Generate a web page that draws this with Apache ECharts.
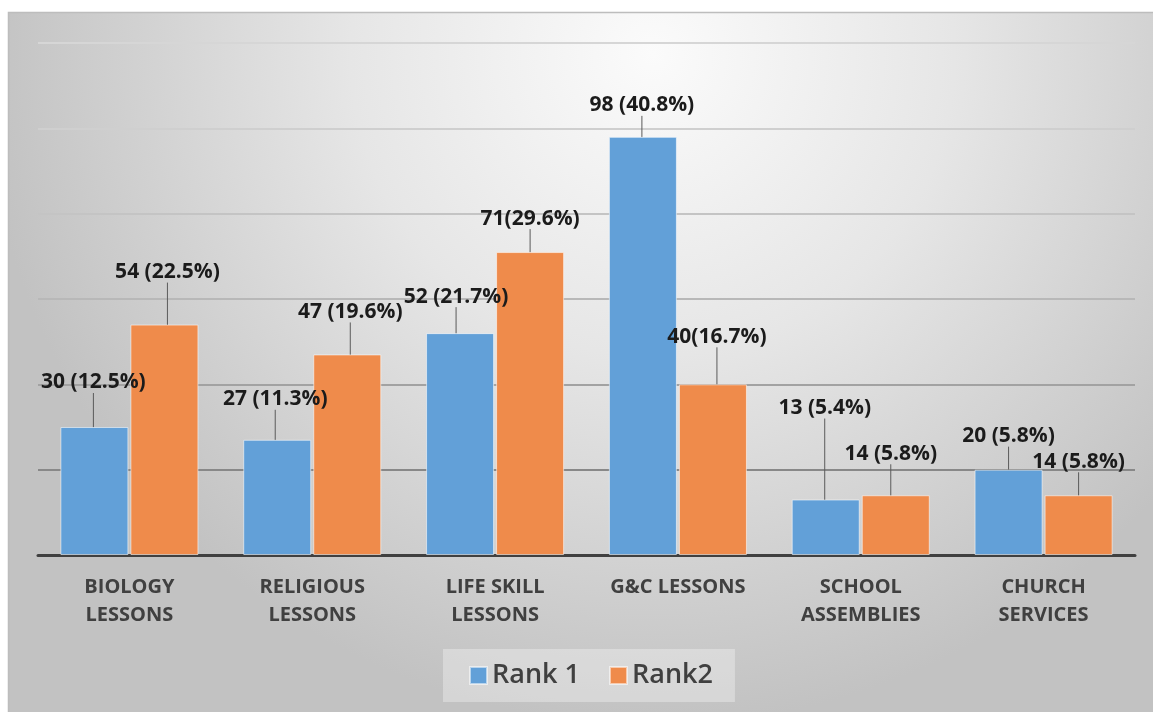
<!DOCTYPE html>
<html>
<head>
<meta charset="utf-8">
<script src="https://cdn.jsdelivr.net/npm/echarts@6/dist/echarts.min.js"></script>
<style>
  html, body { margin: 0; padding: 0; background: #ffffff; }
  #chart { width: 1153px; height: 712px; }
</style>
</head>
<body>
<div id="chart"></div>
<script>
// Lessons / activities ranked first and second
const categories = ['BIOLOGY\nLESSONS', 'RELIGIOUS\nLESSONS', 'LIFE SKILL\nLESSONS', 'G&C LESSONS', 'SCHOOL\nASSEMBLIES', 'CHURCH\nSERVICES'];
const rank1 = [30, 27, 52, 98, 13, 20];
const rank2 = [54, 47, 71, 40, 14, 14];
const pct1 = ['12.5', '11.3', '21.7', '40.8', '5.4', '5.8'];
const pct2 = ['22.5', '19.6', '29.6', '16.7', '5.8', '5.8'];
// text between the count and the bracketed share
const gap1 = [' ', ' ', ' ', ' ', ' ', ' '];
const gap2 = [' ', ' ', '', '', ' ', ' '];
const seriesNames = ['Rank 1', 'Rank2'];
const yTicks = { min: 0, max: 120, interval: 20 };

// callout offsets for the value labels (dx, dy in px from the default top position)
const shift1 = [[-1, -29], [-2, -25], [-4, -21], [-1, -16], [-1, -76], [0, -18]];
const shift2 = [[3, -37], [3, -27], [0, -18], [4, -32], [-5, -26], [0, -18]];

const chart = echarts.init(document.getElementById('chart'), null, { renderer: 'canvas' });

const labelFont = { fontFamily: 'Open Sans', fontWeight: 'bold', fontSize: 21, color: '#1b1b1b' };

function makeSeries(name, values, pcts, gaps, color, shifts) {
  return {
    name: name,
    type: 'bar',
    data: values,
    barWidth: 68,
    barGap: '3%',
    itemStyle: { color: color, borderColor: 'rgba(255,255,255,0.55)', borderWidth: 1 },
    label: Object.assign({
      show: true,
      position: 'top',
      distance: 5,
      formatter: p => values[p.dataIndex] + gaps[p.dataIndex] + '(' + pcts[p.dataIndex] + '%)'
    }, labelFont),
    labelLine: { show: true, lineStyle: { color: '#5a5a5a', width: 1 } },
    labelLayout: p => ({ dx: shifts[p.dataIndex][0], dy: shifts[p.dataIndex][1] })
  };
}

chart.setOption({
  animation: false,
  backgroundColor: '#ffffff',
  graphic: [{
    type: 'rect',
    z: -10,
    shape: { x: 8.5, y: 12.5, width: 1150, height: 705 },
    style: {
      fill: new echarts.graphic.RadialGradient(0.56, 0.06, 0.95, [
        { offset: 0, color: '#fbfbfb' },
        { offset: 0.45, color: '#e6e6e6' },
        { offset: 1, color: '#c2c2c2' }
      ]),
      stroke: '#bdbdbd',
      lineWidth: 1.5
    }
  }],
  grid: { left: 38, right: 18, top: 43, bottom: 157, containLabel: false },
  legend: {
    bottom: 10,
    left: 443,
    data: seriesNames,
    icon: 'rect',
    itemWidth: 17,
    itemHeight: 17,
    itemGap: 29,
    padding: [13, 22, 13, 26],
    backgroundColor: 'rgba(255,255,255,0.32)',
    textStyle: { fontFamily: 'Open Sans', fontSize: 27, color: '#404040', fontWeight: 600 }
  },
  xAxis: {
    type: 'category',
    data: categories,
    axisLine: { lineStyle: { color: '#404040', width: 3 } },
    axisTick: { show: false },
    axisLabel: {
      margin: 18,
      fontFamily: 'Open Sans',
      fontWeight: 'bold',
      fontSize: 20,
      lineHeight: 28,
      color: '#404040',
      interval: 0
    }
  },
  yAxis: {
    type: 'value',
    min: yTicks.min,
    max: yTicks.max,
    interval: yTicks.interval,
    axisLabel: { show: false },
    axisLine: { show: false },
    axisTick: { show: false },
    splitLine: {
      lineStyle: {
        width: 2,
        color: ['#8a8a8a', '#888888', '#a2a2a2', '#b8b8b8', '#c4c4c4', '#cfcfcf', '#d6d6d6']
      }
    }
  },
  series: [
    makeSeries(seriesNames[0], rank1, pct1, gap1, '#62a0d8', shift1),
    makeSeries(seriesNames[1], rank2, pct2, gap2, '#ef8b4b', shift2)
  ]
});
</script>
</body>
</html>
